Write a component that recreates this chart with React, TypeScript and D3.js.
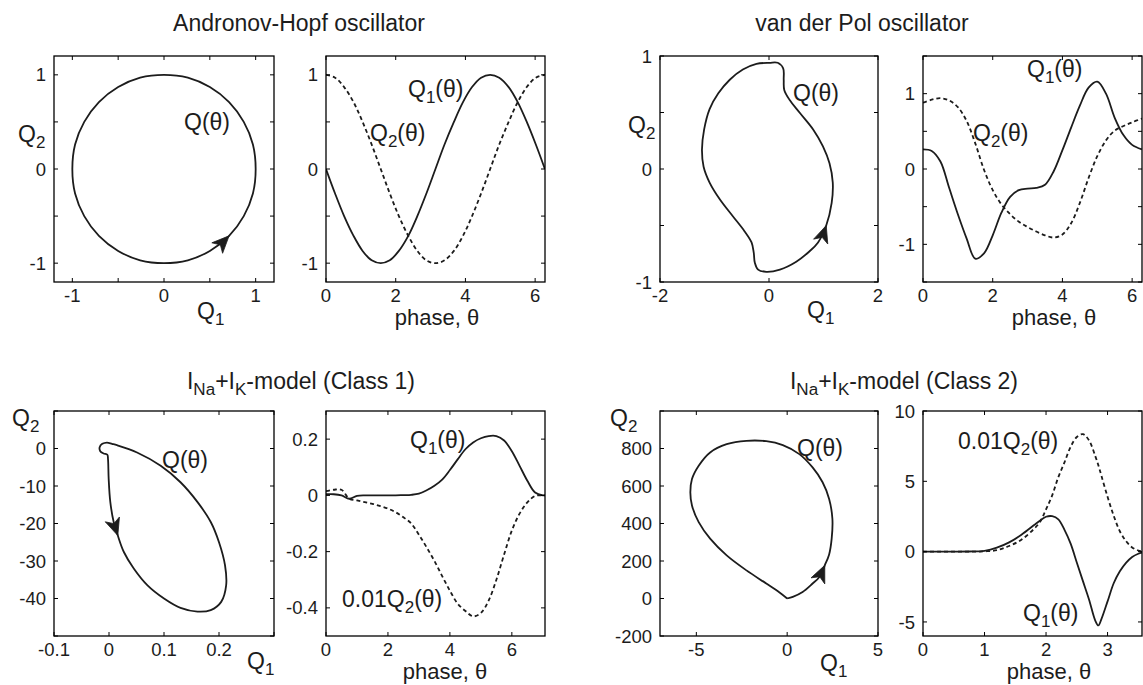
import React from 'react';
import * as d3 from 'd3';

// ---------------- DATA ----------------
// Andronov-Hopf oscillator (time series; orbit = Q1 vs Q2)
const hopfPhase = [0, 0.26, 0.52, 0.79, 1.05, 1.31, 1.57, 1.83, 2.09, 2.36, 2.62, 2.88, 3.14, 3.4, 3.67, 3.93, 4.19, 4.45, 4.71, 4.97, 5.24, 5.5, 5.76, 6.02, 6.28];
const hopfQ1 = [0, -0.26, -0.5, -0.71, -0.87, -0.97, -1, -0.97, -0.87, -0.71, -0.5, -0.26, 0, 0.26, 0.5, 0.71, 0.87, 0.97, 1, 0.97, 0.87, 0.71, 0.5, 0.26, 0];
const hopfQ2 = [1, 0.97, 0.87, 0.71, 0.5, 0.26, 0, -0.26, -0.5, -0.71, -0.87, -0.97, -1, -0.97, -0.87, -0.71, -0.5, -0.26, 0, 0.26, 0.5, 0.71, 0.87, 0.97, 1];
const hopfArrowIndex = 15;

// van der Pol oscillator
const vdpPhase = [0, 0.25, 0.5, 0.75, 1, 1.25, 1.5, 1.75, 2, 2.25, 2.5, 2.75, 3, 3.25, 3.5, 3.75, 4, 4.25, 4.5, 4.75, 5, 5.25, 5.5, 5.75, 6, 6.28];
const vdpQ1 = [0.26, 0.24, 0.1, -0.25, -0.6, -0.92, -1.19, -1.12, -0.88, -0.58, -0.37, -0.28, -0.26, -0.25, -0.21, -0.03, 0.25, 0.55, 0.84, 1.08, 1.16, 1.0, 0.68, 0.45, 0.32, 0.26];
const vdpQ2 = [0.88, 0.92, 0.94, 0.91, 0.82, 0.64, 0.34, -0.01, -0.28, -0.47, -0.6, -0.7, -0.77, -0.83, -0.88, -0.91, -0.87, -0.72, -0.45, -0.12, 0.17, 0.38, 0.51, 0.57, 0.62, 0.67];
const vdpOrbitQ1 = [0.01, -0.23, -0.48, -0.72, -0.93, -1.09, -1.19, -1.23, -1.2, -1.09, -0.9, -0.66, -0.45, -0.32, -0.28, -0.26, -0.2, -0.05, 0.2, 0.5, 0.74, 0.9, 1.05, 1.15, 1.17, 1.11, 0.99, 0.81, 0.56, 0.38, 0.28, 0.27, 0.26, 0.16];
const vdpOrbitQ2 = [0.94, 0.93, 0.88, 0.79, 0.67, 0.53, 0.35, 0.17, 0.02, -0.12, -0.27, -0.42, -0.55, -0.65, -0.74, -0.83, -0.89, -0.91, -0.89, -0.82, -0.73, -0.65, -0.5, -0.3, -0.12, 0.05, 0.2, 0.35, 0.5, 0.61, 0.7, 0.79, 0.89, 0.94];
const vdpArrowIndex = 22;

// I_Na + I_K model, Class 1
const c1Phase = [0, 0.25, 0.5, 0.75, 1, 1.25, 1.5, 1.75, 2, 2.25, 2.5, 2.75, 3, 3.25, 3.5, 3.75, 4, 4.25, 4.5, 4.75, 5, 5.25, 5.5, 5.75, 6, 6.25, 6.5, 6.75, 7, 7.07];
const c1Q1 = [0.004, 0.004, 0, -0.012, -0.002, 0, 0, 0, 0, 0, 0.001, 0.002, 0.006, 0.018, 0.034, 0.056, 0.09, 0.128, 0.164, 0.188, 0.203, 0.211, 0.211, 0.195, 0.157, 0.105, 0.052, 0.01, 0, 0];
const c1Q2scaled = [0.015, 0.02, 0.02, -0.012, -0.018, -0.024, -0.03, -0.038, -0.047, -0.06, -0.078, -0.1, -0.14, -0.185, -0.233, -0.287, -0.339, -0.385, -0.411, -0.43, -0.418, -0.374, -0.3, -0.21, -0.125, -0.065, -0.025, -0.002, 0, 0];
const c1OrbitQ1 = [-0.0037, -0.0122, -0.017, -0.0159, -0.0098, -0.003, -0.0018, -0.0006, 0.0024, 0.0085, 0.016, 0.027, 0.045, 0.07, 0.1, 0.13, 0.161, 0.185, 0.204, 0.213, 0.211, 0.2, 0.185, 0.161, 0.13, 0.094, 0.051, 0.0146, 0.0055];
const c1OrbitQ2 = [1.59, 1.24, 0.35, -0.71, -1.33, -1.68, -2.83, -8.1, -14.3, -19.6, -23.2, -27.6, -32.0, -36.5, -40, -42.5, -43.5, -43.1, -40.9, -36.5, -31.2, -25, -19.6, -14.3, -9, -4.6, -1.06, 0.88, 1.24];
const c1ArrowIndex = 10;

// I_Na + I_K model, Class 2
const c2Phase = [0, 0.25, 0.5, 0.75, 1, 1.2, 1.4, 1.6, 1.8, 1.9, 2, 2.1, 2.2, 2.3, 2.4, 2.5, 2.6, 2.7, 2.8, 2.85, 2.9, 3, 3.1, 3.2, 3.3, 3.4, 3.5, 3.56];
const c2Q1 = [0, 0, 0, 0.01, 0.06, 0.28, 0.66, 1.2, 1.87, 2.2, 2.48, 2.52, 2.3, 1.55, 0.57, -0.77, -2.1, -3.42, -4.9, -5.25, -4.8, -3.54, -2.25, -1.4, -0.8, -0.38, -0.15, -0.07];
const c2Q2scaled = [0, 0, 0, 0, 0.02, 0.1, 0.4, 0.85, 1.6, 2.1, 3.0, 4.0, 5.3, 6.35, 7.45, 8.15, 8.35, 7.9, 6.8, 6.15, 5.4, 3.9, 2.55, 1.45, 0.75, 0.3, 0.08, 0.02];
const c2OrbitQ1 = [0, 0.31, 0.85, 1.4, 1.75, 2.07, 2.31, 2.45, 2.49, 2.31, 1.95, 1.4, 0.67, -0.24, -1.15, -2.24, -3.33, -4.24, -4.87, -5.24, -5.33, -5.24, -4.87, -4.24, -3.33, -2.24, -1.15, -0.42, 0];
const c2OrbitQ2 = [0, 9, 35, 80, 112, 177, 235, 319, 425, 531, 620, 699, 770, 818, 839, 841, 823, 779, 708, 637, 566, 496, 407, 319, 230, 150, 80, 32, 0];
const c2ArrowIndex = 5;

// Tick values and labels
const hopfPlaneTicks = [-1, -0.5, 0, 0.5, 1];
const hopfPlaneLabels = [-1, 0, 1];
const hopfPhaseTicks = [0, 2, 4, 6];
const vdpPlaneXTicks = [-2, 0, 2];
const vdpPlaneYTicks = [-1, -0.5, 0, 0.5, 1];
const vdpPlaneYLabels = [-1, 0, 1];
const vdpSeriesYTicks = [-1.5, -1, -0.5, 0, 0.5, 1, 1.5];
const vdpSeriesYLabels = [-1, 0, 1];
const c1PlaneXTicks = [-0.1, 0, 0.1, 0.2, 0.3];
const c1PlaneXLabels = [-0.1, 0, 0.1, 0.2];
const c1PlaneYTicks = [-50, -40, -30, -20, -10, 0, 10];
const c1PlaneYLabels = [-40, -30, -20, -10, 0];
const c1SeriesXTicks = [0, 2, 4, 6];
const c1SeriesYTicks = [-0.4, -0.2, 0, 0.2];
const c2PlaneXTicks = [-5, 0, 5];
const c2PlaneYTicks = [-200, 0, 200, 400, 600, 800, 1000];
const c2PlaneYLabels = [-200, 0, 200, 400, 600, 800];
const c2SeriesXTicks = [0, 1, 2, 3];
const c2SeriesYTicks = [-5, 0, 5, 10];

// ---------------- STYLE ----------------
const FONT = '"Liberation Sans", Arial, Helvetica, sans-serif';
const INK = '#1c1c1c';
const TICK_FS = 18.5;
const LABEL_FS = 23;
const PHASE_FS = 22;
const TITLE_FS = 23;

type Box = { x0: number; x1: number; y0: number; y1: number };
type Part = { t: string; sub?: boolean };

function Rich({ x, y, parts, size, anchor = 'start' }: { x: number; y: number; parts: Part[]; size: number; anchor?: string }) {
  let cur = 0;
  const subShift = Math.round(size * 0.26);
  return (
    <text x={x} y={y} fontSize={size} fontFamily={FONT} fill={INK} textAnchor={anchor as any}>
      {parts.map((p, i) => {
        const target = p.sub ? subShift : 0;
        const dy = target - cur;
        cur = target;
        return (
          <tspan key={i} dy={dy} fontSize={p.sub ? size * 0.74 : size}>
            {p.t}
          </tspan>
        );
      })}
    </text>
  );
}

const Q = (n?: string, theta = true, prefix = ''): Part[] => {
  const parts: Part[] = [];
  parts.push({ t: prefix + 'Q' });
  if (n) parts.push({ t: n, sub: true });
  if (theta) parts.push({ t: '(θ)' });
  return parts;
};

function Frame({
  box, xs, ys, xTicks, xLabels, yTicks, yLabels, children, id,
}: {
  box: Box; xs: any; ys: any; xTicks: number[]; xLabels: number[]; yTicks: number[]; yLabels: number[]; children?: any; id: string;
}) {
  const tl = 4;
  return (
    <g>
      <defs>
        <clipPath id={id}>
          <rect x={box.x0} y={box.y0} width={box.x1 - box.x0} height={box.y1 - box.y0} />
        </clipPath>
      </defs>
      <g clipPath={`url(#${id})`}>{children}</g>
      <rect x={box.x0} y={box.y0} width={box.x1 - box.x0} height={box.y1 - box.y0} fill="none" stroke="#000" strokeWidth={1.3} />
      {xTicks.map((v) => (
        <g key={'xt' + v}>
          <line x1={xs(v)} x2={xs(v)} y1={box.y1} y2={box.y1 - tl} stroke="#000" strokeWidth={1} />
          <line x1={xs(v)} x2={xs(v)} y1={box.y0} y2={box.y0 + tl} stroke="#000" strokeWidth={1} />
        </g>
      ))}
      {yTicks.map((v) => (
        <g key={'yt' + v}>
          <line x1={box.x0} x2={box.x0 + tl} y1={ys(v)} y2={ys(v)} stroke="#000" strokeWidth={1} />
          <line x1={box.x1} x2={box.x1 - tl} y1={ys(v)} y2={ys(v)} stroke="#000" strokeWidth={1} />
        </g>
      ))}
      {xLabels.map((v) => (
        <text key={'xl' + v} x={xs(v)} y={box.y1 + 19.5} fontSize={TICK_FS} fontFamily={FONT} fill={INK} textAnchor="middle">
          {String(v)}
        </text>
      ))}
      {yLabels.map((v) => (
        <text key={'yl' + v} x={box.x0 - 8} y={ys(v) + 6.6} fontSize={TICK_FS} fontFamily={FONT} fill={INK} textAnchor="end">
          {String(v)}
        </text>
      ))}
    </g>
  );
}

function seriesPath(phase: number[], vals: number[], xs: any, ys: any) {
  const line = d3
    .line<number>()
    .x((_, i) => xs(phase[i]))
    .y((d) => ys(d))
    .curve(d3.curveCatmullRom.alpha(0.5));
  return line(vals) || '';
}

function orbitPath(q1: number[], q2: number[], xs: any, ys: any, closed: boolean) {
  const pts: [number, number][] = q1.map((v, i) => [xs(v), ys(q2[i])]);
  const line = d3
    .line<[number, number]>()
    .x((d) => d[0])
    .y((d) => d[1])
    .curve(closed ? d3.curveCatmullRomClosed.alpha(0.5) : d3.curveCatmullRom.alpha(0.5));
  return line(pts) || '';
}

function arrowHead(q1: number[], q2: number[], k: number, xs: any, ys: any) {
  const n = q1.length;
  const tip = [xs(q1[k]), ys(q2[k])];
  const a = [xs(q1[(k - 1 + n) % n]), ys(q2[(k - 1 + n) % n])];
  const b = [xs(q1[(k + 1) % n]), ys(q2[(k + 1) % n])];
  let ux = b[0] - a[0];
  let uy = b[1] - a[1];
  const len = Math.hypot(ux, uy) || 1;
  ux /= len;
  uy /= len;
  const nx = -uy;
  const ny = ux;
  const L = 17;
  const W = 7.5;
  const notch = 4.5;
  const p1 = [tip[0] - L * ux + W * nx, tip[1] - L * uy + W * ny];
  const p2 = [tip[0] - (L - notch) * ux, tip[1] - (L - notch) * uy];
  const p3 = [tip[0] - L * ux - W * nx, tip[1] - L * uy - W * ny];
  return `M${tip[0]},${tip[1]}L${p1[0]},${p1[1]}L${p2[0]},${p2[1]}L${p3[0]},${p3[1]}Z`;
}

const SW = 1.8;

export default function App() {
  // boxes
  const B1: Box = { x0: 54, x1: 274, y0: 56, y1: 282 };
  const B2: Box = { x0: 326, x1: 545, y0: 56, y1: 282 };
  const B3: Box = { x0: 660, x1: 878, y0: 56, y1: 282 };
  const B4: Box = { x0: 923, x1: 1142, y0: 56, y1: 282 };
  const B5: Box = { x0: 54, x1: 274, y0: 411, y1: 636 };
  const B6: Box = { x0: 326, x1: 545, y0: 411, y1: 636 };
  const B7: Box = { x0: 660, x1: 878, y0: 411, y1: 636 };
  const B8: Box = { x0: 923, x1: 1142, y0: 411, y1: 636 };

  const sx = (b: Box, d: [number, number]) => d3.scaleLinear().domain(d).range([b.x0, b.x1]);
  const sy = (b: Box, d: [number, number]) => d3.scaleLinear().domain(d).range([b.y1, b.y0]);

  const x1 = sx(B1, [-1.2, 1.2]), y1 = sy(B1, [-1.2, 1.2]);
  const x2 = sx(B2, [0, 6.283]), y2 = sy(B2, [-1.2, 1.2]);
  const x3 = sx(B3, [-2, 2]), y3 = sy(B3, [-1, 1]);
  const x4 = sx(B4, [0, 6.283]), y4 = sy(B4, [-1.5, 1.5]);
  const x5 = sx(B5, [-0.1, 0.3]), y5 = sy(B5, [-50, 10]);
  const x6 = sx(B6, [0, 7.07]), y6 = sy(B6, [-0.5, 0.3]);
  const x7 = sx(B7, [-7, 5]), y7 = sy(B7, [-200, 1000]);
  const x8 = sx(B8, [0, 3.56]), y8 = sy(B8, [-6, 10]);

  const solid = { fill: 'none', stroke: INK, strokeWidth: SW, strokeLinejoin: 'round' as const };
  const dashed = { ...solid, strokeDasharray: '4 3' };

  const hopfOrbitQ1 = hopfQ1.slice(0, -1);
  const hopfOrbitQ2 = hopfQ2.slice(0, -1);

  const phaseLabel = (x: number, y: number) => (
    <text x={x} y={y} fontSize={PHASE_FS} fontFamily={FONT} fill={INK} textAnchor="middle">phase, θ</text>
  );

  return (
    <svg width={1143} height={685} style={{ position: 'absolute', left: 0, top: 0, background: '#fff' }}>
      <rect x={0} y={0} width={1143} height={685} fill="#fff" />

      {/* Titles */}
      <text x={299} y={31} fontSize={TITLE_FS} fontFamily={FONT} fill={INK} textAnchor="middle">Andronov-Hopf oscillator</text>
      <text x={862} y={31} fontSize={TITLE_FS} fontFamily={FONT} fill={INK} textAnchor="middle">van der Pol oscillator</text>
      <Rich x={301} y={389} size={TITLE_FS} anchor="middle" parts={[{ t: 'I' }, { t: 'Na', sub: true }, { t: '+I' }, { t: 'K', sub: true }, { t: '-model (Class 1)' }]} />
      <Rich x={904} y={389} size={TITLE_FS} anchor="middle" parts={[{ t: 'I' }, { t: 'Na', sub: true }, { t: '+I' }, { t: 'K', sub: true }, { t: '-model (Class 2)' }]} />

      {/* Panel 1: Andronov-Hopf phase plane */}
      <Frame id="c1" box={B1} xs={x1} ys={y1} xTicks={hopfPlaneTicks} xLabels={hopfPlaneLabels} yTicks={hopfPlaneTicks} yLabels={hopfPlaneLabels}>
        <path d={orbitPath(hopfOrbitQ1, hopfOrbitQ2, x1, y1, true)} {...solid} />
        <path d={arrowHead(hopfOrbitQ1, hopfOrbitQ2, hopfArrowIndex, x1, y1)} fill={INK} stroke={INK} strokeWidth={0.8} />
      </Frame>
      <Rich x={184} y={130} size={LABEL_FS} parts={Q(undefined, true)} />
      <Rich x={18} y={142} size={LABEL_FS} parts={Q('2', false)} />
      <Rich x={197} y={319} size={LABEL_FS} parts={Q('1', false)} />

      {/* Panel 2: Andronov-Hopf time series */}
      <Frame id="c2" box={B2} xs={x2} ys={y2} xTicks={hopfPhaseTicks} xLabels={hopfPhaseTicks} yTicks={hopfPlaneTicks} yLabels={hopfPlaneLabels}>
        <path d={seriesPath(hopfPhase, hopfQ2, x2, y2)} {...dashed} />
        <path d={seriesPath(hopfPhase, hopfQ1, x2, y2)} {...solid} />
      </Frame>
      <Rich x={408} y={97} size={LABEL_FS} parts={Q('1')} />
      <Rich x={370} y={141} size={LABEL_FS} parts={Q('2')} />
      {phaseLabel(437, 325)}

      {/* Panel 3: van der Pol phase plane */}
      <Frame id="c3" box={B3} xs={x3} ys={y3} xTicks={vdpPlaneXTicks} xLabels={vdpPlaneXTicks} yTicks={vdpPlaneYTicks} yLabels={vdpPlaneYLabels}>
        <path d={orbitPath(vdpOrbitQ1, vdpOrbitQ2, x3, y3, true)} {...solid} />
        <path d={arrowHead(vdpOrbitQ1, vdpOrbitQ2, vdpArrowIndex, x3, y3)} fill={INK} stroke={INK} strokeWidth={0.8} />
      </Frame>
      <Rich x={793} y={101} size={LABEL_FS} parts={Q(undefined, true)} />
      <Rich x={628} y={133} size={LABEL_FS} parts={Q('2', false)} />
      <Rich x={807} y={318} size={LABEL_FS} parts={Q('1', false)} />

      {/* Panel 4: van der Pol time series */}
      <Frame id="c4" box={B4} xs={x4} ys={y4} xTicks={hopfPhaseTicks} xLabels={hopfPhaseTicks} yTicks={vdpSeriesYTicks} yLabels={vdpSeriesYLabels}>
        <path d={seriesPath(vdpPhase, vdpQ2, x4, y4)} {...dashed} />
        <path d={seriesPath(vdpPhase, vdpQ1, x4, y4)} {...solid} />
      </Frame>
      <Rich x={1027} y={77} size={LABEL_FS} parts={Q('1')} />
      <Rich x={973} y={141} size={LABEL_FS} parts={Q('2')} />
      {phaseLabel(1054, 325)}

      {/* Panel 5: Class 1 phase plane */}
      <Frame id="c5" box={B5} xs={x5} ys={y5} xTicks={c1PlaneXTicks} xLabels={c1PlaneXLabels} yTicks={c1PlaneYTicks} yLabels={c1PlaneYLabels}>
        <path d={orbitPath(c1OrbitQ1, c1OrbitQ2, x5, y5, true)} {...solid} />
        <path d={arrowHead(c1OrbitQ1, c1OrbitQ2, c1ArrowIndex, x5, y5)} fill={INK} stroke={INK} strokeWidth={0.8} />
      </Frame>
      <Rich x={162} y={468} size={LABEL_FS} parts={Q(undefined, true)} />
      <Rich x={12} y={426} size={LABEL_FS} parts={Q('2', false)} />
      <Rich x={247} y={669} size={LABEL_FS} parts={Q('1', false)} />

      {/* Panel 6: Class 1 time series */}
      <Frame id="c6" box={B6} xs={x6} ys={y6} xTicks={c1SeriesXTicks} xLabels={c1SeriesXTicks} yTicks={c1SeriesYTicks} yLabels={c1SeriesYTicks}>
        <path d={seriesPath(c1Phase, c1Q2scaled, x6, y6)} {...dashed} />
        <path d={seriesPath(c1Phase, c1Q1, x6, y6)} {...solid} />
      </Frame>
      <Rich x={410} y={448} size={LABEL_FS} parts={Q('1')} />
      <Rich x={342} y={607} size={LABEL_FS} parts={Q('2', true, '0.01')} />
      {phaseLabel(445, 679)}

      {/* Panel 7: Class 2 phase plane */}
      <Frame id="c7" box={B7} xs={x7} ys={y7} xTicks={c2PlaneXTicks} xLabels={c2PlaneXTicks} yTicks={c2PlaneYTicks} yLabels={c2PlaneYLabels}>
        <path d={orbitPath(c2OrbitQ1, c2OrbitQ2, x7, y7, false)} {...solid} />
        <path d={arrowHead(c2OrbitQ1, c2OrbitQ2, c2ArrowIndex, x7, y7)} fill={INK} stroke={INK} strokeWidth={0.8} />
      </Frame>
      <Rich x={797} y={456} size={LABEL_FS} parts={Q(undefined, true)} />
      <Rich x={610} y={426} size={LABEL_FS} parts={Q('2', false)} />
      <Rich x={820} y={671} size={LABEL_FS} parts={Q('1', false)} />

      {/* Panel 8: Class 2 time series */}
      <Frame id="c8" box={B8} xs={x8} ys={y8} xTicks={c2SeriesXTicks} xLabels={c2SeriesXTicks} yTicks={c2SeriesYTicks} yLabels={c2SeriesYTicks}>
        <path d={seriesPath(c2Phase, c2Q2scaled, x8, y8)} {...dashed} />
        <path d={seriesPath(c2Phase, c2Q1, x8, y8)} {...solid} />
      </Frame>
      <Rich x={958} y={449} size={LABEL_FS} parts={Q('2', true, '0.01')} />
      <Rich x={1023} y={621} size={LABEL_FS} parts={Q('1')} />
      {phaseLabel(1049, 679)}
    </svg>
  );
}
